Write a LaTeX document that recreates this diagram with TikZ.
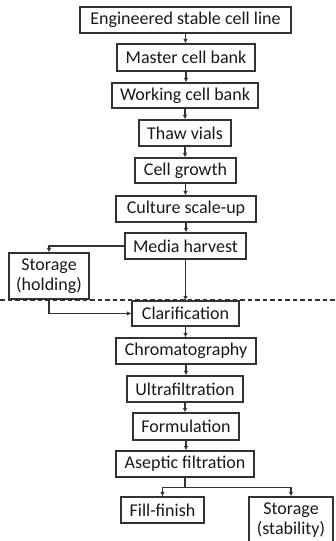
\documentclass[tikz,border=0pt]{standalone}
\usepackage{fontspec}
\setmainfont{Carlito}
\usetikzlibrary{arrows.meta}
\begin{document}
\begin{tikzpicture}[x=1pt,y=-1pt,
  box/.style={draw=black!80,line width=1.2pt,inner sep=0pt,align=center,font=\fontsize{18}{20}\selectfont,text=black!90},
  arr/.style={draw=black!80,line width=1.1pt,-{Latex[length=4.5pt,width=4.5pt]}}]
\useasboundingbox (0,0) rectangle (335,541);
\clip (0,0) rectangle (335,541);
\node[box,minimum width=211pt,minimum height=26pt] (e1) at (185.5,20) {Engineered stable cell line};
\node[box,minimum width=138pt,minimum height=27pt] (mcb) at (186,57.5) {Master cell bank};
\node[box,minimum width=146pt,minimum height=25pt] (wcb) at (185,95.5) {Working cell bank};
\node[box,minimum width=92pt,minimum height=26pt] (thaw) at (185,133) {Thaw vials};
\node[box,minimum width=101pt,minimum height=25pt] (grow) at (185.5,170.5) {Cell growth};
\node[box,minimum width=140pt,minimum height=26pt] (scale) at (186,209) {Culture scale-up};
\node[box,minimum width=121pt,minimum height=26pt] (media) at (185.5,246) {Media harvest};
\node[box,minimum width=80pt,minimum height=46pt] (hold) at (49,276) {Storage\\(holding)};
\node[box,minimum width=107pt,minimum height=25pt] (clar) at (185.5,313.5) {Clarification};
\node[box,minimum width=140pt,minimum height=26pt] (chrom) at (186,351) {Chromatography};
\node[box,minimum width=116pt,minimum height=26pt] (ultra) at (185,389) {Ultrafiltration};
\node[box,minimum width=106pt,minimum height=27pt] (form) at (186,426.5) {Formulation};
\node[box,minimum width=138pt,minimum height=26pt] (asep) at (185,464) {Aseptic filtration};
\node[box,minimum width=83pt,minimum height=26pt] (fill) at (162.5,510) {Fill-finish};
\node[box,minimum width=84pt,minimum height=46pt] (stab) at (291,520) {Storage\\(stability)};
\coordinate (dl) at (0,300);
\coordinate (dr) at (335,300);
\draw[black!80,line width=1.1pt,dash pattern=on 4.5pt off 3pt] (dl) -- (dr);
\foreach \a/\b in {e1/mcb,mcb/wcb,wcb/thaw,thaw/grow,grow/scale,scale/media,media/clar,clar/chrom,chrom/ultra,ultra/form,form/asep}
  \draw[arr] (\a.south) -- (\a.south |- \b.north);
\draw[arr] (media.west) -| (hold.north);
\draw[arr] (hold.south) |- (clar.west);
\coordinate (j) at ([yshift=-10pt]asep.south);
\draw[black!80,line width=1.1pt] (asep.south) -- (j);
\draw[arr] (j) -| (fill.north);
\draw[arr] (j) -| (stab.north);
\end{tikzpicture}
\end{document}
